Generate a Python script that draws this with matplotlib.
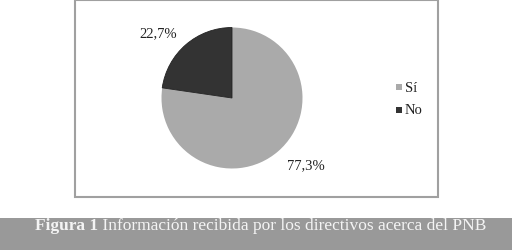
import matplotlib.pyplot as plt
from matplotlib.patches import Rectangle

labels = ['Sí', 'No']
values = [77.3, 22.7]
pct_labels = ['77,3%', '22,7%']
colors = ['#aaaaaa', '#333333']
caption_bold = 'Figura 1'
caption_rest = ' Información recibida por los directivos acerca del PNB'

W, H = 512, 251
plt.rcParams['font.family'] = ['Liberation Serif', 'DejaVu Serif']
fig = plt.figure(figsize=(W / 100, H / 100), dpi=100)

# chart frame
fig.patches.append(Rectangle((74.5 / W, 1 - 198 / H), (437.5 - 74.5) / W, (198 - 1) / H,
                             transform=fig.transFigure, fill=False,
                             edgecolor='#a0a0a0', linewidth=1.5))

# pie axes (pixel placement)
cx, cy, r = 232, 99, 70.5
ax = fig.add_axes([(cx - r) / W, (H - cy - r) / H, 2 * r / W, 2 * r / H])
wedges, _ = ax.pie(values, colors=colors, startangle=90, counterclock=False,
                   wedgeprops={'edgecolor': '#222222', 'linewidth': 0.6})
wedges[0].set_edgecolor('none')
ax.set_xlim(-1, 1)
ax.set_ylim(-1, 1)
ax.axis('off')

# percentage labels
fig.text(306 / W, 1 - 166 / H, pct_labels[0], ha='center', va='center', fontsize=10.5, color='#222222')
fig.text(158 / W, 1 - 34 / H, pct_labels[1], ha='center', va='center', fontsize=10.5, color='#222222')

# legend
for i, (lab, col) in enumerate(zip(labels, colors)):
    y = 88 + i * 23
    fig.patches.append(Rectangle((396 / W, 1 - (y + 3) / H), 6 / W, 6 / H,
                                 transform=fig.transFigure, facecolor=col, edgecolor='none'))
    fig.text(405 / W, 1 - y / H, lab, ha='left', va='center', fontsize=10.5, color='#222222')

# caption band (text top is hidden above the band, as in the scan)
fig.patches.append(Rectangle((0, 0), 1, (H - 219) / H, transform=fig.transFigure,
                             facecolor='#999999', edgecolor='none'))
t = fig.text(35 / W, 1 - 230 / H, caption_bold, ha='left', va='baseline',
             fontsize=12.5, fontweight='bold', color='#f4f4f4')
fig.canvas.draw()
bb = t.get_window_extent()
fig.text(bb.x1 / W, 1 - 230 / H, caption_rest, ha='left', va='baseline',
         fontsize=12.5, color='#f4f4f4')

fig.savefig('out.png', dpi=100)
